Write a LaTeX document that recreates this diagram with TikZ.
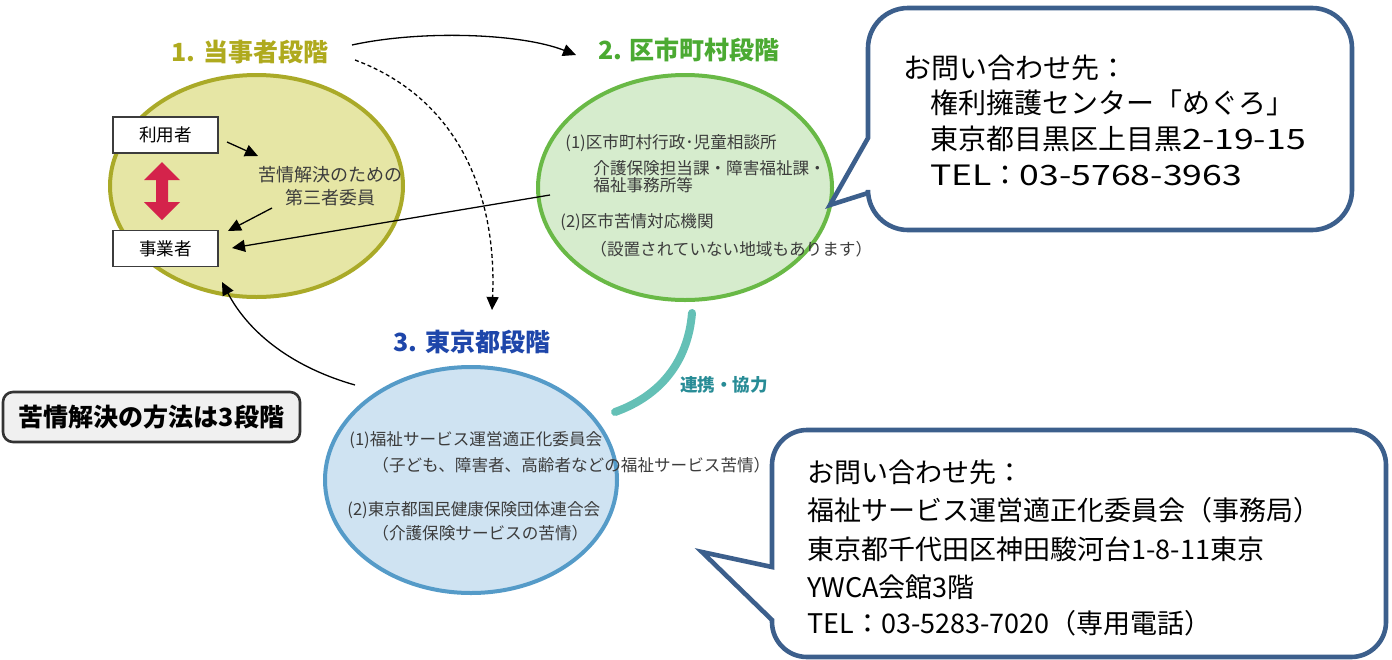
\documentclass[tikz,border=0pt]{standalone}
\usepackage{fontspec}
\setmainfont{Noto Sans CJK JP}
\newfontfamily\widelatin{Noto Sans CJK JP}[FakeStretch=1.27]
\usetikzlibrary{arrows.meta,shapes.geometric}
\definecolor{eAfill}{RGB}{230,230,165}
\definecolor{eAline}{RGB}{170,170,40}
\definecolor{eBfill}{RGB}{214,236,205}
\definecolor{eBline}{RGB}{105,185,70}
\definecolor{eCfill}{RGB}{207,227,242}
\definecolor{eCline}{RGB}{85,155,200}
\definecolor{labA}{RGB}{175,170,30}
\definecolor{labB}{RGB}{75,170,50}
\definecolor{labC}{RGB}{30,70,170}
\definecolor{teal1}{RGB}{100,192,182}
\definecolor{teal2}{RGB}{40,140,150}
\definecolor{callline}{RGB}{60,95,140}
\definecolor{redarr}{RGB}{212,35,75}
\definecolor{txtgray}{RGB}{60,60,60}
\definecolor{boxgray}{RGB}{240,240,240}
\begin{document}
\begin{tikzpicture}[x=0.5pt,y=-0.5pt,
  ell/.style={ellipse, inner sep=0pt, line width=2pt},
  smallbox/.style={draw=txtgray, fill=white, line width=0.8pt, minimum width=52.5pt, minimum height=18pt, inner sep=0pt, font=\fontsize{8.8}{10}\selectfont},
  etext/.style={anchor=west, inner sep=0pt, text=txtgray, font=\fontsize{8.3}{9}\selectfont},
  stagelabel/.style={inner sep=0pt, font=\bfseries\fontsize{12.5}{14}\selectfont},
  calltext/.style={anchor=west, inner sep=0pt, font=\fontsize{14}{16}\selectfont},
  calltextB/.style={anchor=west, inner sep=0pt, font=\fontsize{13.5}{16}\selectfont},
  arr/.style={line width=0.65pt, -{Triangle[length=6.5pt,width=6pt]}},
  callout/.style={draw=callline, fill=white, line width=2.3pt, line join=miter}
]
\useasboundingbox (0,0) rectangle (1392,659);

% ellipses
\node[ell, draw=eAline, fill=eAfill, minimum width=146.5pt, minimum height=111pt] (e1) at (256.5,186) {};
\node[ell, draw=eBline, fill=eBfill, minimum width=147pt, minimum height=112.5pt] (e2) at (685,187.5) {};
\node[ell, draw=eCline, fill=eCfill, minimum width=146pt, minimum height=113pt] (e3) at (471,480) {};

% stage labels
\node[stagelabel, text=labA] (l1) at (250,52) {1. 当事者段階};
\node[stagelabel, text=labB] (l2) at (689,50) {2. 区市町村段階};
\node[stagelabel, text=labC] (l3) at (472,342) {3. 東京都段階};

% stage 1 contents
\node[smallbox] (u) at (165.5,135) {利用者};
\node[smallbox] (j) at (165.5,248.5) {事業者};
\fill[redarr] (162,162) -- (180,180) -- (168,180) -- (168,202) -- (180,202) -- (162,220) -- (144,202) -- (156,202) -- (156,180) -- (144,180) -- cycle;
\node[inner sep=0pt, align=center, text=txtgray, font=\fontsize{9}{11.5}\selectfont] (t3) at (330,186) {苦情解決のための\\第三者委員};

\coordinate (a1s) at (227,142);
\coordinate (a1e) at (258,156);
\coordinate (a2s) at (272,208);
\coordinate (a2e) at (228,231);
\draw[arr] (a1s) -- (a1e);
\draw[arr] (a2s) -- (a2e);

% stage 2 contents
\node[etext] (b1) at (565,143) {(1)区市町村行政･児童相談所};
\node[etext] (b2) at (593,168) {介護保険担当課・障害福祉課・};
\node[etext] (b3) at (593,185) {福祉事務所等};
\node[etext] (b4) at (560,222) {(2)区市苦情対応機関};
\node[etext] (b5) at (590,249) {（設置されていない地域もあります）};

% stage 3 contents
\node[etext] (c1) at (349,440) {(1)福祉サービス運営適正化委員会};
\node[etext] (c2) at (372,465) {（子ども、障害者、高齢者などの福祉サービス苦情）};
\node[etext] (c3) at (347,510) {(2)東京都国民健康保険団体連合会};
\node[etext] (c4) at (372,533) {（介護保険サービスの苦情）};

% connectors
\coordinate (s12) at (352,45);
\coordinate (t12) at (576,55);
\draw[arr] (s12) .. controls (420,30) and (520,33) .. (t12);
\coordinate (s13) at (355,60);
\coordinate (t13) at (492,310);
\draw[arr, dash pattern=on 2pt off 1.4pt] (s13) .. controls (462,100) and (497,200) .. (t13);
\coordinate (s2j) at (550,195);
\coordinate (t2j) at (232,248);
\draw[arr] (s2j) -- (t2j);
\coordinate (s3j) at (355,385);
\coordinate (t3j) at (222,282);
\draw[arr] (s3j) .. controls (295,368) and (250,335) .. (t3j);

% cooperation
\coordinate (k1) at (692,313);
\coordinate (k2) at (615,412);
\draw[teal1, line width=4pt, line cap=round] (k1) .. controls (688,362) and (660,396) .. (k2);
\node[inner sep=0pt, text=teal2, font=\bfseries\fontsize{8.8}{10}\selectfont] (kt) at (724,385) {連携・協力};

% summary box
\node[draw=black!80, fill=boxgray, line width=1.3pt, rounded corners=5pt, minimum width=148.5pt, minimum height=25pt, inner sep=0pt, font=\bfseries\fontsize{12.5}{14}\selectfont] (sum) at (151.5,417) {苦情解決の方法は3段階};

% callout 1
\draw[callout] (868,193) -- (868,190) arc[start angle=180, end angle=90, radius=40] -- (1312,230) arc[start angle=90, end angle=0, radius=40] -- (1352,48) arc[start angle=0, end angle=-90, radius=40] -- (908,8) arc[start angle=270, end angle=180, radius=40] -- (868,138) -- (830,205) -- cycle;
\node[calltext] (p1) at (903,68) {お問い合わせ先：};
\node[calltext] (p2) at (930,103) {権利擁護センター「めぐろ」};
\node[calltext] (p3) at (930,139) {東京都目黒区上目黒{\widelatin 2-19-15}};
\node[calltext] (p4) at (930,175) {{\widelatin TEL}：{\widelatin 03-5768-3963}};

% callout 2
\draw[callout] (772,620) -- (772,622) arc[start angle=180, end angle=90, radius=35] -- (1351,657) arc[start angle=90, end angle=0, radius=35] -- (1386,465) arc[start angle=0, end angle=-90, radius=35] -- (807,430) arc[start angle=270, end angle=180, radius=35] -- (772,567) -- (702,552) -- cycle;
\node[calltextB] (q1) at (807,472) {お問い合わせ先：};
\node[calltextB] (q2) at (807,510) {福祉サービス運営適正化委員会（事務局）};
\node[calltextB] (q3) at (807,549) {東京都千代田区神田駿河台1-8-11東京};
\node[calltextB] (q4) at (807,587) {YWCA会館3階};
\node[calltextB] (q5) at (807,623) {TEL：03-5283-7020（専用電話）};
\end{tikzpicture}
\end{document}
